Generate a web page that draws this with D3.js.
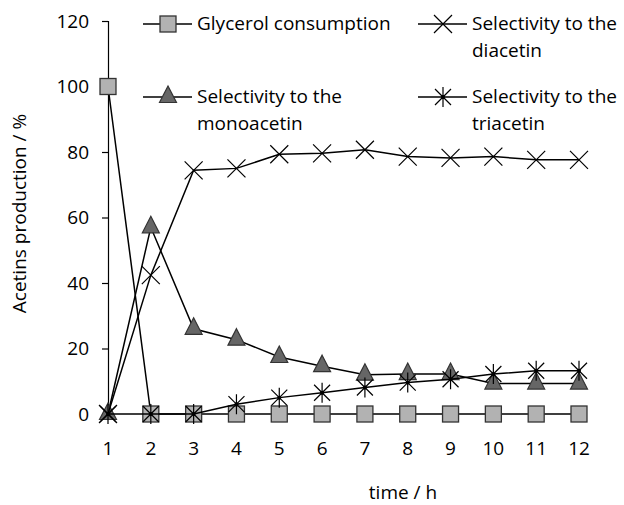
<!DOCTYPE html>
<html>
<head>
<meta charset="utf-8">
<script src="https://cdn.jsdelivr.net/npm/d3@7"></script>
<style>
  body { margin: 0; background: #fff; }
  svg { font-family: "Open Sans", sans-serif; }
</style>
</head>
<body>
<div id="chart"></div>
<script>
// time in hours
const hours = [1, 2, 3, 4, 5, 6, 7, 8, 9, 10, 11, 12];
const glycerol = [100, 0, 0, 0, 0, 0, 0, 0, 0, 0, 0, 0];
const monoacetin = [0, 57, 26, 22.7, 17.4, 14.6, 12, 12.2, 12.2, 9.3, 9.3, 9.3];
const diacetin = [0, 42.4, 74.4, 75, 79.3, 79.6, 80.7, 78.6, 78.2, 78.6, 77.6, 77.6];
const triacetin = [0, 0, 0, 3, 5, 6.5, 8.1, 9.6, 10.6, 12.2, 13.2, 13.2];
const yTicks = [0, 20, 40, 60, 80, 100, 120];

const width = 624, height = 505;
const fontSize = 19;

const x = d3.scaleLinear().domain([1, 12]).range([108, 579]);
const y = d3.scaleLinear().domain([0, 120]).range([414, 21]);

const svg = d3.select("#chart").append("svg")
    .attr("width", width)
    .attr("height", height);

const series = [
    { name: "Glycerol consumption", values: glycerol, marker: "square" },
    { name: "Selectivity to the monoacetin", values: monoacetin, marker: "triangle" },
    { name: "Selectivity to the diacetin", values: diacetin, marker: "cross" },
    { name: "Selectivity to the triacetin", values: triacetin, marker: "star" }
];

// y axis, ticks to the left
const yAxis = svg.append("g")
    .attr("transform", `translate(${x(1)},0)`)
    .call(d3.axisLeft(y).tickValues(yTicks).tickSize(6).tickPadding(13));
yAxis.select(".domain").attr("stroke", "#000").attr("stroke-width", 1.2);
yAxis.selectAll(".tick line").attr("stroke", "#000").attr("stroke-width", 1.2);
yAxis.selectAll("text").attr("font-size", fontSize).attr("fill", "#000")
    .attr("font-family", "'Open Sans', sans-serif");

// x tick labels (no axis line)
svg.append("g").selectAll("text")
    .data(hours)
    .join("text")
    .attr("x", d => x(d))
    .attr("y", 455)
    .attr("text-anchor", "middle")
    .attr("font-size", fontSize)
    .text(d => d);

// axis titles
svg.append("text")
    .attr("transform", `translate(26,${(y(0) + y(120)) / 2 - 4}) rotate(-90)`)
    .attr("text-anchor", "middle")
    .attr("font-size", fontSize)
    .text("Acetins production / %");

svg.append("text")
    .attr("x", 403)
    .attr("y", 499)
    .attr("text-anchor", "middle")
    .attr("font-size", fontSize)
    .text("time / h");

const line = d3.line()
    .x((d, i) => x(hours[i]))
    .y(d => y(d));

function drawMarker(g, type) {
    if (type === "square") {
        g.append("rect").attr("x", -8).attr("y", -8).attr("width", 16).attr("height", 16)
            .attr("fill", "#b2b2b2").attr("stroke", "#333").attr("stroke-width", 1.3);
    } else if (type === "triangle") {
        g.append("path").attr("d", "M0,-11L8.5,5.5L-8.5,5.5Z")
            .attr("fill", "#666").attr("stroke", "#333").attr("stroke-width", 1.2);
    } else if (type === "cross") {
        g.append("path").attr("d", "M-9,-9L9,9M-9,9L9,-9")
            .attr("stroke", "#000").attr("stroke-width", 1.2).attr("fill", "none");
    } else if (type === "star") {
        g.append("path").attr("d", "M-8,-8L8,8M-8,8L8,-8M0,-10L0,10")
            .attr("stroke", "#000").attr("stroke-width", 1.2).attr("fill", "none");
        g.append("circle").attr("r", 2).attr("fill", "#000");
    }
}

// lines then markers, in series order
series.forEach(s => {
    const g = svg.append("g");
    g.append("path")
        .datum(s.values)
        .attr("d", line)
        .attr("fill", "none")
        .attr("stroke", "#000")
        .attr("stroke-width", 1.5);
    g.selectAll("g.pt")
        .data(s.values)
        .join("g")
        .attr("class", "pt")
        .attr("transform", (d, i) => `translate(${x(hours[i])},${y(d)})`)
        .each(function () { drawMarker(d3.select(this), s.marker); });
});

// legend
const legendPos = [
    { lx: 143, ly: 24 },
    { lx: 143, ly: 97 },
    { lx: 418, ly: 24 },
    { lx: 418, ly: 97 }
];
const legend = svg.append("g");
series.forEach((s, i) => {
    const p = legendPos[i];
    const g = legend.append("g").attr("transform", `translate(${p.lx},${p.ly})`);
    g.append("line").attr("x1", 0).attr("x2", 49).attr("y1", 0).attr("y2", 0)
        .attr("stroke", "#000").attr("stroke-width", 1.5);
    drawMarker(g.append("g").attr("transform", "translate(25,0)"), s.marker);
    const t = g.append("text").attr("x", 54).attr("y", 6).attr("font-size", fontSize);
    if (i === 0) {
        t.text(s.name);
    } else {
        const words = s.name.split(" ");
        t.append("tspan").attr("x", 54).text(words.slice(0, 3).join(" "));
        t.append("tspan").attr("x", 54).attr("dy", 27).text(words[3]);
    }
});
</script>
</body>
</html>
